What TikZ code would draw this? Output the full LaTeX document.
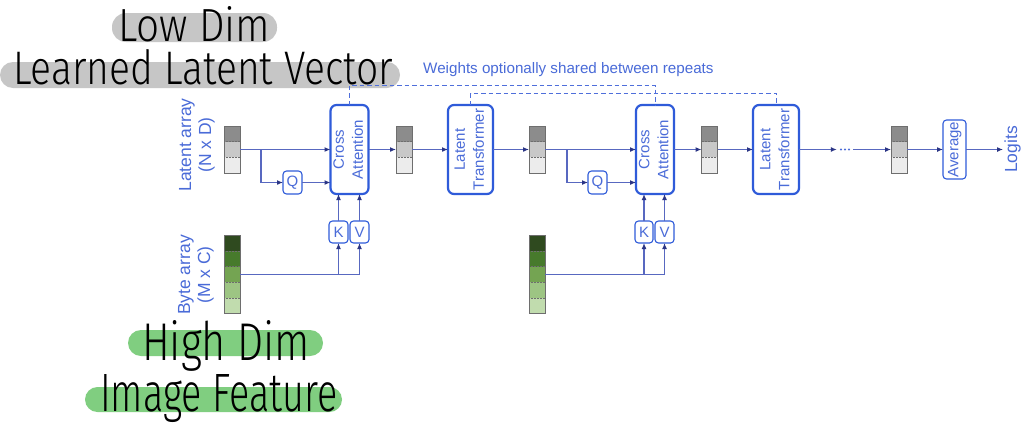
\documentclass[tikz,border=0pt]{standalone}
\usepackage{fontspec}
\setmainfont{Liberation Sans}
\newfontfamily\handfont{Fira Sans Light}
\usepackage{graphicx}
\usetikzlibrary{arrows.meta,calc}
\definecolor{bbox}{HTML}{2F5BD9}
\definecolor{lbl}{HTML}{4A6BD8}
\definecolor{ln}{HTML}{5868C0}
\definecolor{tipc}{HTML}{2B3585}
\definecolor{dsh}{HTML}{4F6FDB}
\definecolor{pillgray}{HTML}{C6C6C6}
\definecolor{pillgreen}{HTML}{80CE80}
\definecolor{stb}{HTML}{6E6E6E}
\definecolor{ga}{HTML}{8C8C8C}
\definecolor{gb}{HTML}{C8C8C8}
\definecolor{gc}{HTML}{ECECEC}
\definecolor{gra}{HTML}{2F4A1F}
\definecolor{grb}{HTML}{477A2C}
\definecolor{grc}{HTML}{74A452}
\definecolor{grd}{HTML}{9DC583}
\definecolor{gre}{HTML}{C1DCAE}
\newcommand\vtext[1]{\rotatebox{90}{\begin{tabular}{@{}c@{}}#1\end{tabular}}}
\newcommand\stackfill[2]{%
  \path (path picture bounding box.north west) coordinate (pnw)
        (path picture bounding box.north east) coordinate (pne)
        (path picture bounding box.south west) coordinate (psw)
        (path picture bounding box.south east) coordinate (pse);
  \foreach \c [count=\i] in {#2} {
    \fill[\c] ($(pnw)!{(\i-1)/#1}!(psw)$) rectangle ($(pne)!{\i/#1}!(pse)$);
  }
  \foreach \i in {1,...,#1} {
    \draw[stb, line width=0.5pt, densely dotted] ($(pnw)!{\i/#1}!(psw)$) -- ($(pne)!{\i/#1}!(pse)$);
  }
}
\tikzset{
  stackbox/.style={draw=stb, line width=0.9pt, minimum width=16pt, inner sep=0, outer sep=0},
  latent/.style={stackbox, minimum height=47pt, path picture={\stackfill{3}{ga,gb,gc}}},
  bytes/.style={stackbox, minimum height=78pt, path picture={\stackfill{5}{gra,grb,grc,grd,gre}}},
  bigbox/.style={draw=bbox, line width=2.2pt, rounded corners=6pt, inner sep=0, outer sep=0,
    text=lbl, font=\fontsize{15}{19}\selectfont},
  smallbox/.style={draw=bbox, line width=1.1pt, rounded corners=3.5pt, inner sep=0, outer sep=0,
    text=lbl, font=\fontsize{15}{19}\selectfont},
  sidelbl/.style={inner sep=0, text=lbl, font=\fontsize{17.5}{20}\selectfont},
  arr/.style={draw=ln, line width=1.2pt, -{Latex[length=6pt,width=5pt,color=tipc]}},
  dline/.style={draw=dsh, line width=1pt, dash pattern=on 4.5pt off 3pt},
  hand/.style={inner sep=0, anchor=base west, text=black, font=\handfont},
}
\begin{document}
\begin{tikzpicture}[x=1pt,y=-1pt]
\useasboundingbox (0,0) rectangle (1024,442);
\fill[white] (0,0) rectangle (1024,442);
% highlighter pills
\fill[pillgray, rounded corners=14pt] (112,13) rectangle (277,42);
\fill[pillgray, rounded corners=13pt] (0,62) rectangle (400,88);
\fill[pillgreen, rounded corners=13pt] (128,330) rectangle (323,356);
\fill[pillgreen, rounded corners=12.5pt] (85,387) rectangle (342,412);

% labels
\node[sidelbl] (latlbl) at (197,145) {\vtext{Latent array\\(N x D)}};
\node[sidelbl] (bytelbl) at (196,275) {\vtext{Byte array\\(M x C)}};
\node[inner sep=0, anchor=west, text=lbl, font=\fontsize{15.2}{18}\selectfont] (wlbl) at (423,70) {Weights optionally shared between repeats};

% stacks
\node[latent] (s1) at (232,149.5) {};
\node[latent] (s2) at (404,149.5) {};
\node[latent] (s3) at (537,149.5) {};
\node[latent] (s4) at (709.5,149.5) {};
\node[latent] (s5) at (899,149.5) {};
\node[bytes] (by1) at (232,274.5) {};
\node[bytes] (by2) at (537,274.5) {};

% blocks
\node[bigbox, minimum width=35pt, minimum height=89pt] (ca1) at (349.5,149.5) {\vtext{Cross\\Attention}};
\node[bigbox, minimum width=45pt, minimum height=89pt] (lt1) at (470.5,149.5) {\vtext{Latent\\Transformer}};
\node[bigbox, minimum width=36pt, minimum height=89pt] (ca2) at (655,149.5) {\vtext{Cross\\Attention}};
\node[bigbox, minimum width=46pt, minimum height=89pt] (lt2) at (776,149.5) {\vtext{Latent\\Transformer}};
\node[smallbox, minimum width=19pt, minimum height=23pt] (q1) at (292.5,182.5) {Q};
\node[smallbox, minimum width=19pt, minimum height=23pt] (q2) at (597.5,182.5) {Q};
\node[smallbox, minimum width=19pt, minimum height=22pt] (k1) at (338.5,232) {K};
\node[smallbox, minimum width=19pt, minimum height=22pt] (v1) at (359.5,232) {V};
\node[smallbox, minimum width=18pt, minimum height=22pt] (k2) at (644,232) {K};
\node[smallbox, minimum width=19pt, minimum height=22pt] (v2) at (664.5,232) {V};
\node[smallbox, minimum width=23pt, minimum height=59pt] (avg) at (954.5,149.5) {\vtext{Average}};
\node[sidelbl, anchor=west] (logits) at (1003,149.5) {\vtext{Logits}};
\node[inner sep=0, minimum width=16pt, minimum height=4pt] (dots) at (845,149.5) {};
\foreach \dx in {-4,0,4} \fill[lbl] ($(dots)+(\dx,0)$) circle (1.2pt);

% branch points
\coordinate (b1) at (261,149.5);
\coordinate (b2) at (567,149.5);

% connectors
\draw[arr] (s1.east) -- (s1.east -| ca1.west);
\draw[arr] (b1) |- (q1.west);
\draw[arr] (q1.east) -- (q1.east -| ca1.west);
\draw[arr] (ca1.east) -- (ca1.east -| s2.west);
\draw[arr] (s2.east) -- (s2.east -| lt1.west);
\draw[arr] (lt1.east) -- (lt1.east -| s3.west);
\draw[arr] (s3.east) -- (s3.east -| ca2.west);
\draw[arr] (b2) |- (q2.west);
\draw[arr] (q2.east) -- (q2.east -| ca2.west);
\draw[arr] (ca2.east) -- (ca2.east -| s4.west);
\draw[arr] (s4.east) -- (s4.east -| lt2.west);
\draw[arr] (lt2.east) -- (lt2.east -| dots.west);
\draw[arr] (dots.east) -- (dots.east -| s5.west);
\draw[arr] (s5.east) -- (s5.east -| avg.west);
\draw[arr] (avg.east) -- (avg.east -| logits.west);

\draw[arr] (by1.east) -| (v1.south);
\draw[arr] (by1.east -| k1.south) -- (k1.south);
\draw[arr] (k1.north) -- (k1.north |- ca1.south);
\draw[arr] (v1.north) -- (v1.north |- ca1.south);
\draw[arr] (by2.east) -| (v2.south);
\draw[arr] (by2.east -| k2.south) -- (k2.south);
\draw[arr] (k2.north) -- (k2.north |- ca2.south);
\draw[arr] (v2.north) -- (v2.north |- ca2.south);

% shared-weight dashed links
\draw[dline] (ca1.north) -- ++(0,-20) -| (ca2.north);
\draw[dline] (lt1.north) -- ++(0,-12) -| (lt2.north);

% handwritten annotations
\node[hand] (lowdim) at (118,41) {\resizebox{152pt}{35pt}{Low Dim}};
\node[hand] (llv) at (13,84) {\resizebox{380pt}{35pt}{Learned Latent Vector}};
\node[hand] (highdim) at (142,360) {\resizebox{168pt}{40pt}{High Dim}};
\node[hand] (imgfeat) at (100,411) {\resizebox{237pt}{37pt}{Image Feature}};
\end{tikzpicture}
\end{document}
